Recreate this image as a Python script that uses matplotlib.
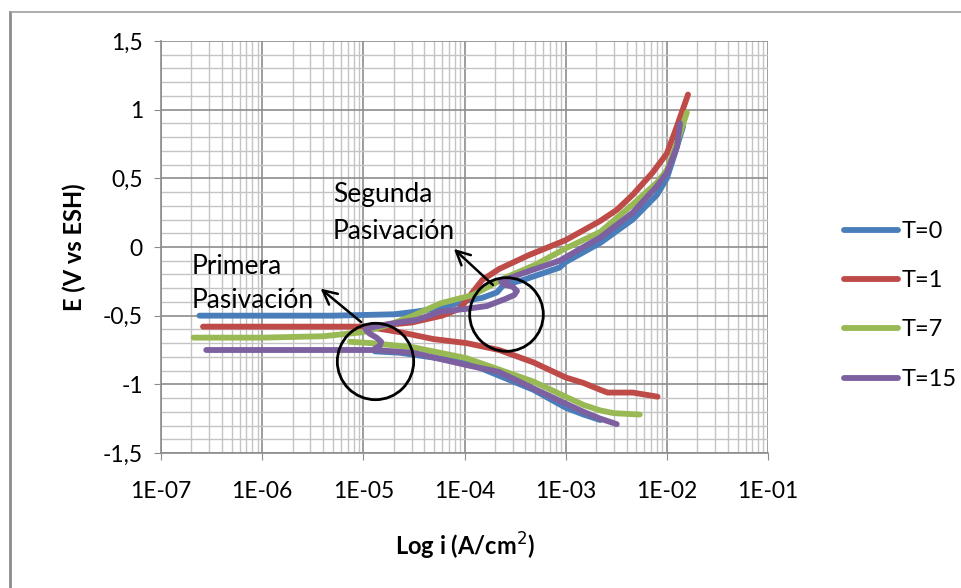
import matplotlib
matplotlib.use("Agg")
import matplotlib.pyplot as plt
from matplotlib.lines import Line2D
from matplotlib.ticker import LogLocator, MultipleLocator, NullFormatter

plt.rcParams['font.family'] = ['Lato', 'DejaVu Sans']

labels = ['T=0', 'T=1', 'T=7', 'T=15']
colors = ['#4A7EBB', '#BE4B48', '#98B954', '#7D60A0']

# T=0
i_an_0 = [2.4e-7, 1e-6, 5e-6, 2e-5, 3.4e-5, 6e-5, 1.05e-4, 1.5e-4, 2.1e-4, 2.4e-4, 3.8e-4,
          8.7e-4, 1.0e-3, 2.2e-3, 4.6e-3, 8e-3, 1e-2, 1.2e-2, 1.45e-2]
E_an_0 = [-0.50, -0.50, -0.50, -0.49, -0.47, -0.44, -0.39, -0.37, -0.33, -0.28, -0.24,
          -0.15, -0.11, 0.03, 0.20, 0.38, 0.50, 0.68, 0.88]
i_cat_0 = [1.3e-5, 2.3e-5, 1.05e-4, 4.8e-4, 1.0e-3, 1.5e-3, 2.2e-3]
E_cat_0 = [-0.76, -0.77, -0.84, -1.04, -1.17, -1.22, -1.26]

# T=1
i_an_1 = [1.1e-5, 3e-5, 6e-5, 8.9e-5, 1.05e-4, 1.2e-4, 1.5e-4, 2.2e-4, 4.3e-4,
          1e-3, 2.2e-3, 3.2e-3, 4.6e-3, 7.2e-3, 1e-2, 1.26e-2, 1.62e-2]
E_an_1 = [-0.58, -0.55, -0.50, -0.45, -0.39, -0.33, -0.24, -0.16, -0.06,
          0.05, 0.19, 0.27, 0.38, 0.54, 0.68, 0.88, 1.11]
i_cat_1 = [2.6e-7, 1e-6, 5e-6, 1e-5, 1.3e-5, 2.3e-5, 4.9e-5, 1.05e-4, 2.2e-4, 4.8e-4,
           1e-3, 1.5e-3, 2.2e-3, 2.6e-3, 4.6e-3, 8.1e-3]
E_cat_1 = [-0.58, -0.58, -0.58, -0.58, -0.59, -0.62, -0.67, -0.70, -0.75, -0.84,
           -0.95, -0.99, -1.04, -1.06, -1.06, -1.09]

# T=7
i_an_7 = [2.1e-7, 1e-6, 4e-6, 1e-5, 1.9e-5, 3.1e-5, 5.8e-5, 1.2e-4, 2.6e-4, 5e-4,
          1e-3, 2.2e-3, 4.6e-3, 8e-3, 1e-2, 1.26e-2, 1.58e-2]
E_an_7 = [-0.66, -0.66, -0.65, -0.62, -0.56, -0.50, -0.41, -0.35, -0.22, -0.13,
          -0.01, 0.11, 0.31, 0.47, 0.56, 0.76, 0.98]
i_cat_7 = [7.4e-6, 1.2e-5, 3.1e-5, 1.05e-4, 4.8e-4, 1e-3, 1.5e-3, 2.2e-3, 3e-3, 5.4e-3]
E_cat_7 = [-0.69, -0.70, -0.73, -0.81, -0.98, -1.09, -1.15, -1.19, -1.21, -1.22]

# T=15
i_an_15 = [1.3e-5, 1.45e-5, 1.5e-5, 1.35e-5, 1.15e-5, 1.05e-5, 1.3e-5, 1.8e-5, 3.4e-5,
           5.8e-5, 1.05e-4, 1.66e-4, 2.5e-4, 3.1e-4, 3.3e-4, 3.0e-4, 2.4e-4, 2.3e-4,
           3.8e-4, 8.7e-4, 2.2e-3, 4.6e-3, 7.9e-3, 1e-2, 1.26e-2, 1.35e-2]
E_an_15 = [-0.74, -0.72, -0.69, -0.66, -0.63, -0.60, -0.58, -0.56, -0.53,
           -0.47, -0.45, -0.43, -0.38, -0.35, -0.32, -0.29, -0.27, -0.25,
           -0.19, -0.10, 0.07, 0.25, 0.44, 0.54, 0.73, 0.90]
i_cat_15 = [2.8e-7, 1e-6, 5e-6, 1.3e-5, 3.1e-5, 1.05e-4, 2.2e-4, 4.8e-4, 1e-3, 1.5e-3,
            2.2e-3, 3.2e-3]
E_cat_15 = [-0.75, -0.75, -0.75, -0.75, -0.77, -0.86, -0.91, -1.03, -1.14, -1.20,
            -1.25, -1.29]

series = [
    (i_an_0, E_an_0, i_cat_0, E_cat_0),
    (i_an_1, E_an_1, i_cat_1, E_cat_1),
    (i_an_7, E_an_7, i_cat_7, E_cat_7),
    (i_an_15, E_an_15, i_cat_15, E_cat_15),
]

fig = plt.figure(figsize=(9.61, 5.88), dpi=100)
ax = fig.add_axes([161 / 961, 1 - 453 / 588, (768 - 161) / 961, (453 - 41) / 588])

ax.set_xscale('log')
ax.set_xlim(1e-7, 1e-1)
ax.set_ylim(-1.5, 1.5)

ax.yaxis.set_major_locator(MultipleLocator(0.5))
ax.yaxis.set_minor_locator(MultipleLocator(0.1))
ax.xaxis.set_minor_locator(LogLocator(base=10, subs=range(2, 10), numticks=20))
ax.xaxis.set_minor_formatter(NullFormatter())

ax.grid(which='minor', color='#c4c4c4', lw=1.0)
ax.grid(which='major', color='#8c8c8c', lw=1.2)
ax.set_axisbelow(True)

for s in ['top', 'right']:
    ax.spines[s].set_visible(False)
for s in ['left', 'bottom']:
    ax.spines[s].set_color('#8c8c8c')
    ax.spines[s].set_linewidth(1.2)

ax.tick_params(which='major', length=5, color='#8c8c8c', labelsize=16.5, pad=8)
ax.tick_params(which='minor', length=0)
ax.tick_params(axis='x', pad=15)

xt = [1e-7, 1e-6, 1e-5, 1e-4, 1e-3, 1e-2, 1e-1]
ax.set_xticks(xt)
ax.set_xticklabels(['1E-07', '1E-06', '1E-05', '1E-04', '1E-03', '1E-02', '1E-01'])
yt = [-1.5, -1, -0.5, 0, 0.5, 1, 1.5]
ax.set_yticks(yt)
ax.set_yticklabels(['-1,5', '-1', '-0,5', '0', '0,5', '1', '1,5'])

for (ia, ea, ic, ec), c in zip(series, colors):
    ax.plot(ic, ec, color=c, lw=4.2, solid_capstyle='round', solid_joinstyle='round')
    ax.plot(ia, ea, color=c, lw=4.2, solid_capstyle='round', solid_joinstyle='round')

ax.set_xlabel('Log i (A/cm$^2$)', fontsize=17, fontweight='bold', labelpad=21)
ax.set_ylabel('E (V vs ESH)', fontsize=17, fontweight='bold', labelpad=12)

# circles around the passivation zones
ax.plot([1.3e-5], [-0.83], marker='o', ms=55, mfc='none', mec='black', mew=2, clip_on=False)
ax.plot([2.55e-4], [-0.49], marker='o', ms=53, mfc='none', mec='black', mew=2, clip_on=False)

ax.annotate('', xy=(3.6e-6, -0.29), xytext=(1.0e-5, -0.56),
            arrowprops=dict(arrowstyle='->', lw=1.8, color='black', mutation_scale=25))
ax.annotate('', xy=(7.5e-5, -0.0), xytext=(2.0e-4, -0.29),
            arrowprops=dict(arrowstyle='->', lw=1.8, color='black', mutation_scale=25))

ax.text(2.0e-7, -0.14, 'Primera', fontsize=19, va='center', ha='left')
ax.text(2.0e-7, -0.39, 'Pasivación', fontsize=19, va='center', ha='left')
ax.text(5.0e-6, 0.38, 'Segunda', fontsize=19, va='center', ha='left')
ax.text(5.0e-6, 0.11, 'Pasivación', fontsize=19, va='center', ha='left')

handles = [Line2D([], [], color=c, lw=4.2, solid_capstyle='round') for c in colors]
fig.legend(handles, labels, loc='upper left', bbox_to_anchor=(832 / 961, 1 - 209 / 588),
           frameon=False, fontsize=17, handlelength=2.3, handletextpad=0.15,
           labelspacing=1.2, borderpad=0)

# chart area border (left and top edges visible)
fig.add_artist(Line2D([10 / 961, 10 / 961], [0, 1 - 12 / 588], transform=fig.transFigure,
                      color='#8c8c8c', lw=2))
fig.add_artist(Line2D([10 / 961, 1], [1 - 12 / 588, 1 - 12 / 588], transform=fig.transFigure,
                      color='#a0a0a0', lw=1.2))

fig.savefig('out.png', dpi=100)
